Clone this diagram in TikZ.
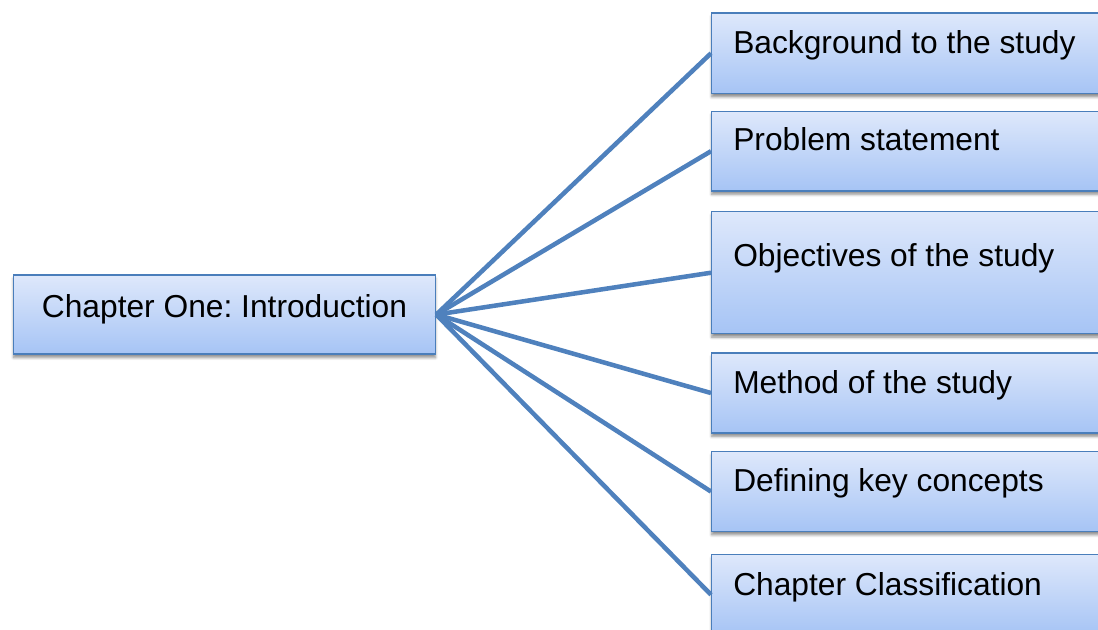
\documentclass[tikz,border=0pt]{standalone}
\usepackage{fontspec}
\setmainfont{Liberation Sans}
\usetikzlibrary{shadows.blur}
\frenchspacing

\definecolor{boxline}{RGB}{74,126,187}
\definecolor{boxtop}{RGB}{222,232,251}
\definecolor{boxbottom}{RGB}{166,196,245}
\definecolor{linkblue}{RGB}{79,129,189}

\tikzset{
  topicbox/.style={rectangle, draw=boxline, line width=1.1pt,
    top color=boxtop, bottom color=boxbottom, inner sep=0pt,
    blur shadow={shadow xshift=0pt, shadow yshift=-2.6pt,
      shadow blur radius=2pt, shadow blur steps=6, shadow opacity=45}},
  topictext/.style={inner sep=0pt, font=\fontsize{23.8}{28}\selectfont, text=black},
  link/.style={draw=linkblue, line width=3.4pt},
}

\begin{document}
\begin{tikzpicture}[x=0.75pt, y=-0.75pt]
  \useasboundingbox (0,0) rectangle (1098,630);
  \clip (0,0) rectangle (1098,630);

  % central topic
  \node[topicbox, minimum width=422*0.75pt, minimum height=79*0.75pt]
    (main) at (224.5,314.6) {};
  \node[topictext, anchor=base] (mainlbl) at (224.5,318) {Chapter One: Introduction};

  % section boxes (run past the right edge)
  \node[topicbox, anchor=north west, minimum width=400*0.75pt, minimum height=80.5*0.75pt]
    (s1) at (711,12.3) {};
  \node[topicbox, anchor=north west, minimum width=400*0.75pt, minimum height=79.5*0.75pt]
    (s2) at (711,110.7) {};
  \node[topicbox, anchor=north west, minimum width=400*0.75pt, minimum height=122*0.75pt]
    (s3) at (711,211) {};
  \node[topicbox, anchor=north west, minimum width=400*0.75pt, minimum height=80*0.75pt]
    (s4) at (711,352.3) {};
  \node[topicbox, anchor=north west, minimum width=400*0.75pt, minimum height=79.7*0.75pt]
    (s5) at (711,451) {};
  \node[topicbox, anchor=north west, minimum width=400*0.75pt, minimum height=80*0.75pt]
    (s6) at (711,554) {};

  \node[topictext, anchor=base west] (t1) at (733,53.3) {Background to the study};
  \node[topictext, anchor=base west] (t2) at (733,151) {Problem statement};
  \node[topictext, anchor=base west] (t3) at (733,267) {Objectives of the study};
  \node[topictext, anchor=base west] (t4) at (733,393.5) {Method of the study};
  \node[topictext, anchor=base west] (t5) at (733,491.7) {Defining key concepts};
  \node[topictext, anchor=base west] (t6) at (733,595) {Chapter Classification};

  % connectors fanning out from the central topic
  \foreach \s in {s1,s2,s3,s4,s5,s6}
    \draw[link] (main.east) -- (\s.west);
\end{tikzpicture}
\end{document}
